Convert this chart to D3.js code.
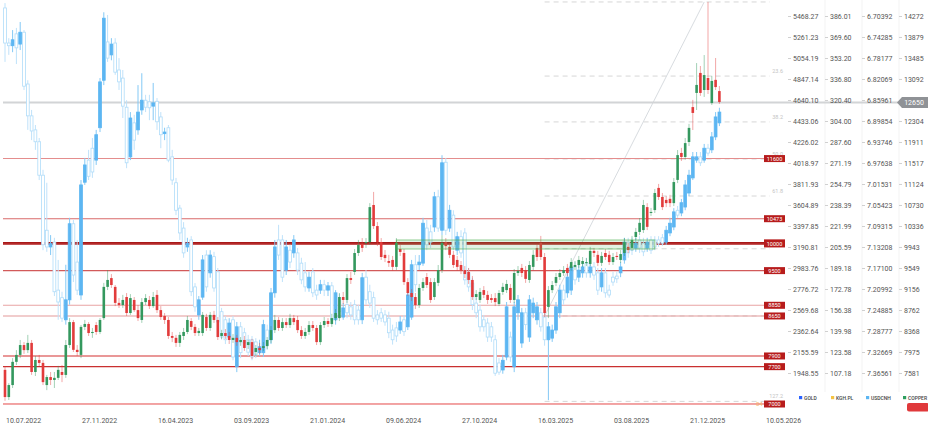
<!DOCTYPE html>
<html><head><meta charset="utf-8">
<script src="https://cdn.jsdelivr.net/npm/d3@7"></script>
<style>body{margin:0;background:#fff;}svg{display:block;font-family:Roboto,"Noto Sans",sans-serif;}</style>
</head><body><svg id="c" width="928" height="427"></svg>
<script>
// ---------- DATA ----------
const firstWeek = "2022-07-10";
// copper weekly candles [open, high, low, close]
const copper = [
[7640,7710,7060,7130],[7130,7390,7075,7355],[7355,7860,7300,7790],[7790,8010,7730,7920],[7920,8200,7860,8105],
[8105,8160,7940,8010],[8010,8295,7955,8145],[8145,8200,7545,7600],[7600,7900,7525,7825],[7825,7920,7710,7770],
[7770,7825,7355,7410],[7355,7545,7260,7505],[7505,7600,7355,7450],[7450,7600,7300,7490],[7490,7715,7450,7640],
[7600,7730,7410,7545],[7545,8200,7490,8105],[8105,8610,8050,8535],[8535,8575,7975,8015],[8015,8105,7900,7975],
[7920,8480,7860,8445],[8445,8575,8385,8500],[8500,8535,8275,8330],[8330,8425,8240,8350],[8480,8535,8295,8350],
[8350,8610,8310,8575],[8610,9270,8575,9195],[9195,9510,9135,9325],[9360,9435,9175,9230],[9195,9230,8835,8895],
[8895,8985,8800,8855],[8855,9045,8800,8950],[9005,9080,8650,8705],[8705,9060,8670,8985],[8950,9005,8725,8760],
[8760,8855,8555,8610],[8575,8985,8520,8910],[8910,9060,8855,8985],[8950,9025,8780,8835],[8835,9100,8800,9005],
[9045,9135,8705,8760],[8760,8835,8575,8630],[8650,8705,8500,8575],[8575,8630,8220,8275],[8275,8350,8160,8240],
[8240,8295,8070,8145],[8145,8350,8070,8295],[8275,8425,8200,8350],[8350,8650,8310,8575],[8555,8610,8385,8445],
[8445,8500,8275,8330],[8330,8425,8275,8370],[8330,8725,8275,8670],[8630,8690,8370,8425],[8425,8725,8370,8670],
[8670,8745,8520,8575],[8575,8630,8200,8255],[8275,8390,8220,8330],[8330,8405,8220,8275],[8275,8350,8125,8200],
[8200,8310,8145,8240],[8240,8295,8090,8160],[8160,8255,8090,8200],[8200,8275,7995,8050],[8105,8200,8030,8160],
[8160,8220,7845,7900],[7975,8105,7900,8050],[8050,8145,7940,8010],[8050,8160,7995,8085],[8085,8255,8030,8200],
[8200,8460,8145,8385],[8385,8670,8330,8575],[8575,8630,8370,8425],[8425,8610,8370,8535],[8535,8610,8425,8480],
[8480,8690,8425,8610],[8610,8670,8480,8535],[8575,8650,8330,8385],[8385,8460,8220,8275],[8275,8425,8220,8350],
[8350,8555,8295,8480],[8480,8555,8370,8425],[8425,8480,8105,8160],[8160,8535,8105,8480],[8480,8630,8425,8555],
[8555,8610,8445,8500],[8500,8690,8445,8610],[8610,8780,8555,8705],[8610,9080,8555,9005],[9005,9100,8875,8950],
[8950,9435,8895,9360],[9360,9475,9250,9325],[9475,9905,9420,9830],[9830,10075,9775,9980],[10000,10110,9850,9925],
[10020,10110,9925,10035],[10035,10765,9980,10690],[10730,10975,10280,10335],[10335,10410,9960,10035],[10035,10110,9700,9755],
[9795,9885,9660,9735],[9680,9795,9570,9645],[9700,9775,9495,9570],[9570,10110,9510,10020],[9905,9980,9775,9850],
[9830,9905,9230,9285],[9285,9360,9025,9080],[9080,9155,8930,9005],[9005,9080,8780,8855],[8855,9250,8800,9175],
[9175,9360,9120,9285],[9380,9455,9175,9230],[9285,9360,8895,8950],[9005,9360,8950,9285],[9270,9605,9210,9510],
[9510,10165,9455,10020],[10035,10110,9885,9960],[9945,10020,9735,9795],[9795,9870,9550,9605],[9700,9775,9495,9570],
[9605,9680,9435,9510],[9510,9585,9360,9435],[9475,9550,9250,9325],[9325,9400,8950,9005],[9005,9135,8950,9060],
[8950,9175,8895,9100],[9135,9210,8985,9045],[9045,9120,8875,8950],[8985,9060,8895,8950],[8985,9080,8835,8910],
[8875,9135,8835,9080],[9100,9270,9045,9195],[9135,9325,9080,9250],[9175,9250,8895,8950],[8950,9530,8895,9455],
[9455,9585,9400,9495],[9550,9625,9380,9455],[9510,9585,9270,9345],[9325,9680,9270,9605],[9570,9885,9510,9795],
[9925,10000,9680,9755],[10020,10150,9700,9755],[9755,9830,8630,8705],[8820,9210,8610,9135],[9135,9305,9080,9230],
[9270,9455,9210,9380],[9380,9530,9325,9455],[9455,9585,9400,9510],[9550,9625,9400,9455],[9550,9735,9495,9660],
[9570,9680,9510,9605],[9605,9775,9550,9700],[9625,9755,9570,9680],[9645,9735,9585,9660],[9625,9945,9585,9870],
[9870,9925,9755,9830],[9795,9870,9585,9645],[9645,9850,9585,9775],[9830,9905,9700,9755],[9795,9870,9605,9660],
[9660,9830,9605,9755],[9775,9850,9700,9755],[9700,9885,9645,9810],[9830,10110,9775,10035],[9945,10020,9830,9885],
[9925,10150,9870,10075],[10130,10300,10075,10225],[10225,10485,10165,10395],[10260,10825,10205,10730],[10690,10765,10260,10320],
[10580,10675,10525,10600],[10635,11030,10580,10955],[11050,11125,10825,10880],[10880,10955,10635,10690],[10825,10900,10690,10765],
[10845,10920,10690,10765],[10765,11235,10710,11160],[11200,11760,11140,11665],[11705,11800,11555,11630],[11630,11985,11575,11890],
[11910,12250,11835,12175],[12565,12700,12135,12455],[12830,13390,12510,12980],[13205,13335,12775,12830],[12885,13540,12755,13165],
[13110,14535,12810,12885],[12640,13150,12605,13055],[13075,13485,12885,12940],[12865,12960,12625,12660]
];
// USDCNH weekly candles [open, high, low, close] (inverted axis)
const usdcnh = [
[6.689,6.789,6.680,6.754],[6.754,6.776,6.745,6.759],[6.759,6.771,6.730,6.748],[6.737,6.793,6.726,6.763],[6.756,6.767,6.715,6.734],
[6.734,6.841,6.730,6.834],[6.830,6.915,6.823,6.889],[6.889,6.934,6.878,6.917],[6.915,6.952,6.906,6.937],[6.937,7.008,6.930,6.999],
[6.999,7.138,6.989,7.128],[7.101,7.141,7.013,7.132],[7.132,7.147,7.110,7.126],[7.123,7.223,7.115,7.215],[7.212,7.267,7.156,7.234],
[7.226,7.271,7.215,7.264],[7.267,7.276,7.165,7.230],[7.230,7.239,7.078,7.089],[7.089,7.197,7.082,7.184],[7.160,7.221,7.119,7.212],
[7.221,7.230,7.008,7.017],[7.012,7.017,6.967,6.980],[6.971,7.008,6.952,7.001],[6.949,7.004,6.930,6.993],[6.971,6.980,6.915,6.924],
[6.911,6.919,6.819,6.826],[6.823,6.832,6.697,6.708],[6.752,6.789,6.702,6.782],[6.776,6.786,6.745,6.756],[6.754,6.813,6.745,6.808],
[6.804,6.841,6.782,6.826],[6.819,6.893,6.804,6.871],[6.873,6.986,6.860,6.976],[6.965,6.971,6.882,6.893],[6.902,6.952,6.887,6.934],
[6.915,6.924,6.832,6.882],[6.878,6.887,6.810,6.860],[6.860,6.882,6.850,6.873],[6.863,6.897,6.850,6.874],[6.871,6.897,6.828,6.865],
[6.862,6.915,6.856,6.900],[6.891,6.949,6.882,6.924],[6.922,6.934,6.911,6.919],[6.911,6.975,6.906,6.971],[6.965,7.017,6.952,7.008],
[7.013,7.073,7.004,7.064],[7.060,7.119,7.054,7.106],[7.097,7.152,7.086,7.143],[7.132,7.141,7.115,7.125],[7.119,7.223,7.112,7.215],
[7.206,7.252,7.199,7.243],[7.258,7.267,7.223,7.230],[7.225,7.230,7.147,7.156],[7.147,7.215,7.138,7.206],[7.180,7.189,7.138,7.147],
[7.150,7.215,7.141,7.208],[7.178,7.278,7.171,7.271],[7.252,7.304,7.245,7.299],[7.267,7.312,7.260,7.304],[7.299,7.304,7.264,7.273],
[7.267,7.342,7.260,7.336],[7.354,7.364,7.271,7.280],[7.280,7.338,7.271,7.328],[7.291,7.319,7.282,7.310],[7.304,7.334,7.295,7.327],
[7.304,7.342,7.297,7.336],[7.308,7.338,7.301,7.332],[7.328,7.334,7.304,7.317],[7.328,7.336,7.267,7.276],[7.286,7.323,7.276,7.314],
[7.304,7.312,7.208,7.217],[7.217,7.226,7.119,7.132],[7.119,7.156,7.091,7.147],[7.119,7.197,7.110,7.188],[7.175,7.184,7.119,7.132],
[7.138,7.171,7.128,7.160],[7.143,7.152,7.110,7.119],[7.143,7.184,7.134,7.175],[7.162,7.201,7.152,7.193],[7.180,7.215,7.160,7.206],
[7.208,7.215,7.178,7.188],[7.178,7.225,7.171,7.217],[7.212,7.230,7.202,7.221],[7.212,7.219,7.193,7.202],[7.202,7.223,7.193,7.212],
[7.212,7.223,7.197,7.204],[7.204,7.276,7.197,7.267],[7.267,7.276,7.212,7.217],[7.226,7.264,7.219,7.252],[7.262,7.267,7.236,7.245],
[7.239,7.264,7.230,7.254],[7.243,7.267,7.234,7.258],[7.239,7.276,7.230,7.267],[7.249,7.276,7.239,7.267],[7.267,7.275,7.180,7.189],
[7.188,7.239,7.175,7.230],[7.215,7.245,7.202,7.236],[7.226,7.271,7.215,7.264],[7.258,7.276,7.249,7.267],[7.254,7.271,7.245,7.264],
[7.258,7.278,7.249,7.271],[7.264,7.301,7.252,7.291],[7.286,7.313,7.276,7.304],[7.282,7.308,7.271,7.297],[7.286,7.293,7.260,7.271],
[7.267,7.297,7.258,7.289],[7.280,7.286,7.212,7.221],[7.262,7.267,7.156,7.165],[7.165,7.215,7.147,7.202],[7.165,7.175,7.147,7.160],
[7.162,7.167,7.078,7.088],[7.097,7.138,7.082,7.128],[7.104,7.134,7.091,7.123],[7.095,7.104,7.030,7.039],[7.039,7.104,7.026,7.097],
[7.101,7.110,6.962,6.976],[6.975,7.110,6.967,7.101],[7.097,7.104,7.054,7.064],[7.073,7.138,7.064,7.132],[7.138,7.147,7.104,7.113],
[7.113,7.152,7.101,7.143],[7.106,7.202,7.097,7.193],[7.180,7.215,7.171,7.206],[7.199,7.249,7.189,7.239],[7.236,7.264,7.226,7.254],
[7.249,7.289,7.239,7.280],[7.267,7.289,7.258,7.280],[7.273,7.308,7.264,7.299],[7.280,7.308,7.271,7.299],[7.304,7.371,7.295,7.366],
[7.347,7.369,7.338,7.364],[7.360,7.367,7.332,7.342],[7.336,7.342,7.234,7.243],[7.299,7.345,7.289,7.336],[7.354,7.364,7.234,7.243],
[7.254,7.267,7.221,7.230],[7.310,7.319,7.245,7.254],[7.254,7.286,7.245,7.276],[7.299,7.308,7.221,7.230],[7.254,7.264,7.226,7.236],
[7.267,7.276,7.234,7.243],[7.254,7.289,7.245,7.280],[7.262,7.315,7.252,7.304],[7.304,7.416,7.271,7.280],[7.301,7.308,7.276,7.286],
[7.286,7.293,7.234,7.243],[7.254,7.264,7.202,7.212],[7.212,7.239,7.202,7.230],[7.217,7.226,7.178,7.188],[7.212,7.221,7.160,7.169],
[7.169,7.202,7.160,7.193],[7.188,7.197,7.165,7.175],[7.180,7.189,7.160,7.169],[7.162,7.189,7.152,7.180],[7.180,7.189,7.160,7.169],
[7.169,7.193,7.160,7.184],[7.180,7.221,7.171,7.212],[7.206,7.215,7.171,7.180],[7.180,7.226,7.171,7.217],[7.212,7.226,7.202,7.221],
[7.188,7.204,7.178,7.197],[7.186,7.199,7.178,7.191],[7.180,7.188,7.160,7.169],[7.156,7.163,7.115,7.123],[7.123,7.152,7.115,7.143],
[7.125,7.147,7.115,7.138],[7.134,7.141,7.115,7.125],[7.119,7.143,7.112,7.134],[7.125,7.149,7.115,7.141],[7.134,7.141,7.115,7.123],
[7.119,7.145,7.112,7.138],[7.119,7.138,7.112,7.132],[7.119,7.132,7.112,7.125],[7.115,7.130,7.108,7.125],[7.123,7.128,7.093,7.101],
[7.106,7.112,7.078,7.088],[7.095,7.101,7.060,7.067],[7.064,7.078,7.056,7.073],[7.069,7.075,7.043,7.050],[7.058,7.064,7.008,7.017],
[7.032,7.038,6.989,6.999],[7.004,7.008,6.956,6.965],[6.971,6.976,6.956,6.965],[6.965,6.982,6.956,6.976],[6.971,6.976,6.941,6.949],
[6.949,6.963,6.941,6.958],[6.952,6.958,6.919,6.928],[6.928,6.934,6.882,6.891],[6.902,6.908,6.874,6.882]
];
const goldTicks = [5468.27,5261.23,5054.19,4847.14,4640.10,4433.06,4226.02,4018.97,3811.93,3604.89,3397.85,3190.81,2983.76,2776.72,2569.68,2362.64,2155.59,1948.55];
const kghTicks = [386.01,369.60,353.20,336.80,320.40,304.00,287.60,271.19,254.79,238.39,221.99,205.59,189.18,172.78,156.38,139.98,123.58,107.18];
const usdTicks = [6.70392,6.74285,6.78177,6.82069,6.85961,6.89854,6.93746,6.97638,7.01531,7.05423,7.09315,7.13208,7.17100,7.20992,7.24885,7.28777,7.32669,7.36561];
// (the 12698 tick is hidden behind the last-price tag in the reference)
const copperTicks = [14272,13879,13485,13092,12304,11911,11517,11124,10730,10336,9943,9549,9156,8762,8368,7975,7581];
const dateTicks = ["2022-07-10","2022-11-27","2023-04-16","2023-09-03","2024-01-21","2024-06-09","2024-10-27","2025-03-16","2025-08-03","2025-12-21","2026-05-10"];
const levels = [11600,10473,10020,10000,9500,8850,8650,7900,7700,7000];
const levelLabelText = ["11600","10473","","10000","9500","8850","8650","7900","7700","7000"];
const fibHigh = 14535, fibLow = 8650;
const fibStart = "2025-03-30", fibEnd = "2026-01-18";
const fibRatios = [0,0.236,0.382,0.5,0.618,0.786,1,1.272];
// labels hidden behind level tags in the reference are left empty
const fibLabels = ["","23.6","38.2","50.0","61.8","","","127.2"];
const zone = {from:"2024-06-30", to:"2025-10-19", top:10074, bottom:9905};
const lastPrice = 12650;
const legendNames = ["GOLD","KGH.PL","USDCNH","COPPER"];

// ---------- DRAW ----------
const parse = d3.timeParse("%Y-%m-%d");
const svg = d3.select("#c");
const yTop = 16, yBot = 373;
const x = d3.scaleTime().domain([parse("2022-07-10"), parse("2026-05-10")]).range([5, 765]);
const yCu = d3.scaleLinear().domain([7581, 14272]).range([yBot, yTop]);
const yUsd = d3.scaleLinear().domain([7.36561, 6.70392]).range([yBot, yTop]);
const yGold = d3.scaleLinear().domain([1948.55, 5468.27]).range([yBot, yTop]);
const yKgh = d3.scaleLinear().domain([107.18, 386.01]).range([yBot, yTop]);
const d0 = parse(firstWeek);
const dateOf = i => d3.timeWeek.offset(d0, i);

svg.append("rect").attr("width",928).attr("height",427).attr("fill","#fff");

// column separators
[825, 862, 899].forEach(cx => svg.append("line").attr("x1",cx).attr("x2",cx).attr("y1",0).attr("y2",392).attr("stroke","#f3f3f3"));

// fib retracement
const fibG = svg.append("g");
const fx0 = x(parse(fibStart)), fx1 = x(parse(fibEnd));
fibRatios.forEach((r,k) => {
  const v = fibHigh - r*(fibHigh-fibLow);
  const yy = yCu(v);
  fibG.append("line").attr("x1",fx0).attr("x2",770).attr("y1",yy).attr("y2",yy)
    .attr("stroke","#d6d6d6").attr("stroke-width",1).attr("stroke-dasharray","5,4");
  if (fibLabels[k]) fibG.append("text").attr("x",783).attr("y",yy-3).attr("text-anchor","end")
    .attr("font-size",5.5).attr("fill","#c4c4c4").text(fibLabels[k]);
});
fibG.append("line").attr("x1",fx0).attr("y1",yCu(fibLow)).attr("x2",fx1).attr("y2",yCu(fibHigh))
  .attr("stroke","#d8dce0").attr("stroke-width",1);

// horizontal levels
const levelStyle = [
  {c:"#e48d8d",w:1.1},{c:"#d96a6a",w:1.1},{c:"#a81818",w:1.6},{c:"#b01c1c",w:1.6},{c:"#d25a5a",w:1.1},
  {c:"#e8a3a3",w:1.1},{c:"#e39a9a",w:1.1},{c:"#d43030",w:1.1},{c:"#c93030",w:1.1},{c:"#e54848",w:1.0}];
const lvG = svg.append("g");
levels.forEach((v,k) => {
  const yy = yCu(v);
  lvG.append("line").attr("x1",3).attr("x2",764).attr("y1",yy).attr("y2",yy)
    .attr("stroke",levelStyle[k].c).attr("stroke-width",levelStyle[k].w);
});

// current price line
svg.append("line").attr("x1",3).attr("x2",898).attr("y1",yCu(lastPrice)).attr("y2",yCu(lastPrice))
  .attr("stroke","#d2d4d6").attr("stroke-width",2);

// USDCNH candles
const ug = svg.append("g");
usdcnh.forEach((d,i) => {
  const cx = x(dateOf(i));
  const [o,h,l,c] = d;
  const hollow = c > o;
  ug.append("line").attr("x1",cx).attr("x2",cx).attr("y1",yUsd(h)).attr("y2",yUsd(l))
    .attr("stroke", hollow ? "#bfe2fa" : "#84c9f5").attr("stroke-width",1);
  const y1 = Math.min(yUsd(o),yUsd(c)), hgt = Math.max(1, Math.abs(yUsd(o)-yUsd(c)));
  ug.append("rect").attr("x",cx-1.4).attr("y",y1).attr("width",2.8).attr("height",hgt)
    .attr("fill", hollow ? "#ffffff" : "#5cb6f2")
    .attr("stroke", hollow ? "#b0dcf9" : "#5cb6f2").attr("stroke-width",0.8);
});

// copper candles
const cg = svg.append("g");
copper.forEach((d,i) => {
  const cx = x(dateOf(i));
  const [o,h,l,c] = d;
  const up = c >= o;
  const col = up ? "#34985e" : "#e23b3b";
  cg.append("line").attr("x1",cx).attr("x2",cx).attr("y1",yCu(h)).attr("y2",yCu(l))
    .attr("stroke",col).attr("stroke-opacity",0.45).attr("stroke-width",1);
  const y1 = Math.min(yCu(o),yCu(c)), hgt = Math.max(1, Math.abs(yCu(o)-yCu(c)));
  cg.append("rect").attr("x",cx-1.3).attr("y",y1).attr("width",2.6).attr("height",hgt).attr("fill",col);
});

// zone rectangle
svg.append("rect").attr("x",x(parse(zone.from))).attr("y",yCu(zone.top))
  .attr("width",x(parse(zone.to))-x(parse(zone.from))).attr("height",yCu(zone.bottom)-yCu(zone.top))
  .attr("fill","rgba(76,175,80,0.16)").attr("stroke","rgba(76,175,80,0.6)").attr("stroke-width",1);

// level labels
levels.forEach((v,k) => {
  const yy = yCu(v);
  const g = svg.append("g");
  g.append("rect").attr("x",764).attr("y",yy-3.5).attr("width",21).attr("height",7).attr("fill","#b71c1c");
  if (levelLabelText[k]) g.append("text").attr("x",774.5).attr("y",yy+2).attr("text-anchor","middle").attr("font-size",5.5)
    .attr("fill","#fff").text(levelLabelText[k]);
});
svg.append("text").attr("x",756).attr("y",406).attr("font-size",6).attr("fill","#f5b56a").text("04");

// right axes
function col(scale, ticks, fmt, x0){
  const g = svg.append("g").attr("transform",`translate(${x0},0)`)
    .call(d3.axisRight(scale).tickValues(ticks).tickFormat(fmt).tickSize(3).tickPadding(2));
  g.select(".domain").remove();
  g.selectAll(".tick line").attr("stroke","#d0d0d0");
  g.selectAll(".tick text").attr("font-size",7).attr("fill","#555").attr("font-family","Roboto");
}
col(yGold, goldTicks, d3.format(".2f"), 788);
col(yKgh, kghTicks, d3.format(".2f"), 825);
col(yUsd, usdTicks, d3.format(".5f"), 862);
col(yCu, copperTicks, d3.format("d"), 899);

// last price tag
const ty = yCu(lastPrice);
svg.append("path").attr("d",`M897,${ty} L902,${ty-5.5} L928,${ty-5.5} L928,${ty+5.5} L902,${ty+5.5} Z`).attr("fill","#8f9296");
svg.append("text").attr("x",914).attr("y",ty+2.5).attr("text-anchor","middle").attr("font-size",7)
  .attr("fill","#fff").text(lastPrice);

// x axis labels
const fmt = d3.timeFormat("%d.%m.%Y");
svg.append("g").selectAll("text").data(dateTicks).join("text")
  .attr("x",d=>x(parse(d))+1).attr("y",423).attr("font-size",7).attr("fill","#555").text(d=>fmt(parse(d)));

// legend
const legendColors = ["#2962ff","#f5c342","#5cb6f2","#2e9e5f"];
const legendX = [799, 831, 866, 903];
legendNames.forEach((n,k) => {
  svg.append("rect").attr("x",legendX[k]).attr("y",396).attr("width",3.2).attr("height",3.2).attr("fill",legendColors[k]);
  svg.append("text").attr("x",legendX[k]+5).attr("y",399.6).attr("font-size",5).attr("font-weight",500)
    .attr("fill","#444").text(n);
});
svg.append("rect").attr("x",907).attr("y",403).attr("width",22).attr("height",8.5).attr("rx",2).attr("fill","#e0393b");
</script>
</body></html>
